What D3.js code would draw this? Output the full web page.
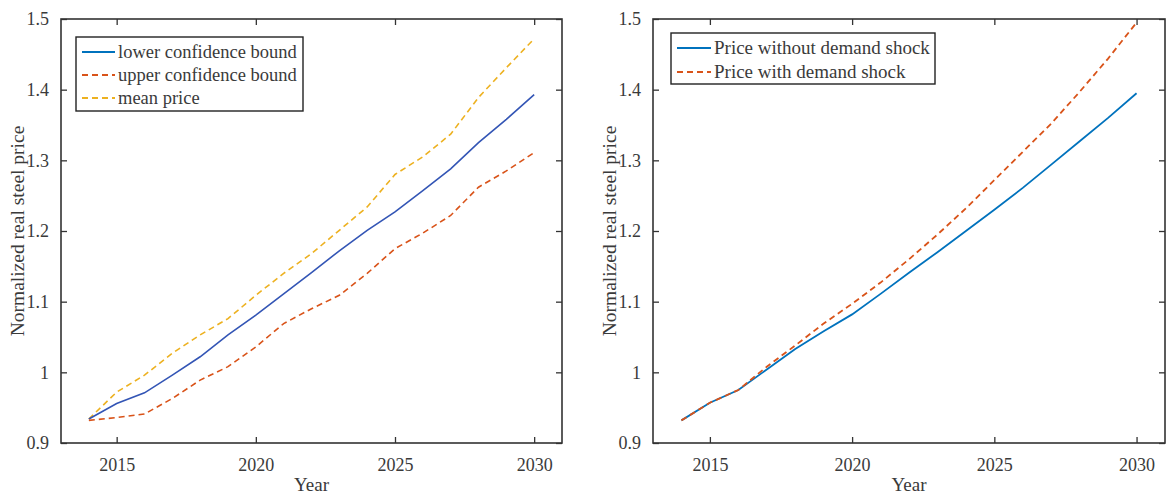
<!DOCTYPE html>
<html>
<head>
<meta charset="utf-8">
<script src="https://cdn.jsdelivr.net/npm/d3@7"></script>
<style>
  body { margin: 0; background: #fff; }
  svg { display: block; }
  text { font-family: "Liberation Serif", "Times New Roman", serif; fill: #3a3a3a; }
</style>
</head>
<body>
<svg width="1166" height="494"></svg>
<script>
// data
var years = d3.range(2014, 2031);
var lowerBound = [0.934, 0.956, 0.971, 0.996, 1.022, 1.053, 1.081, 1.111, 1.141, 1.172, 1.201, 1.227, 1.257, 1.288, 1.325, 1.358, 1.393];
var upperBound = [0.932, 0.936, 0.941, 0.963, 0.989, 1.008, 1.036, 1.069, 1.090, 1.109, 1.140, 1.175, 1.197, 1.222, 1.262, 1.285, 1.311];
var meanPrice  = [0.934, 0.972, 0.996, 1.027, 1.053, 1.076, 1.109, 1.140, 1.168, 1.201, 1.234, 1.280, 1.305, 1.337, 1.389, 1.431, 1.472];
var noShock    = [0.932, 0.957, 0.975, 1.004, 1.033, 1.058, 1.082, 1.111, 1.141, 1.170, 1.200, 1.230, 1.261, 1.294, 1.327, 1.360, 1.395];
var withShock  = [0.932, 0.957, 0.975, 1.008, 1.038, 1.069, 1.097, 1.127, 1.160, 1.195, 1.232, 1.272, 1.312, 1.352, 1.397, 1.444, 1.495];
var xTicks = [2015, 2020, 2025, 2030];
var yTicks = [0.9, 1, 1.1, 1.2, 1.3, 1.4, 1.5];

var blue = "#0072BD", red = "#D95319", yellow = "#EDB120";

var svg = d3.select("svg");

function drawPanel(box, series, legend) {
    var x = d3.scaleLinear().domain([2013, 2031]).range([box.left, box.right]);
    var y = d3.scaleLinear().domain([0.9, 1.5]).range([box.bottom, box.top]);
    var g = svg.append("g");

    // bottom axis (ticks inward) + top ticks
    var xb = g.append("g").attr("transform", "translate(0," + box.bottom + ")")
        .call(d3.axisBottom(x).tickValues(xTicks).tickSize(-6).tickPadding(15).tickFormat(d3.format("d")));
    var xt = g.append("g").attr("transform", "translate(0," + box.top + ")")
        .call(d3.axisTop(x).tickValues(xTicks).tickSize(-6).tickFormat(""));
    var yl = g.append("g").attr("transform", "translate(" + box.left + ",0)")
        .call(d3.axisLeft(y).tickValues(yTicks).tickSize(-6).tickPadding(12).tickFormat(function (d) { return d === 1 ? "1" : d3.format(".1f")(d); }));
    var yr = g.append("g").attr("transform", "translate(" + box.right + ",0)")
        .call(d3.axisRight(y).tickValues(yTicks).tickSize(-6).tickFormat(""));
    [xb, xt, yl, yr].forEach(function (a) {
        a.attr("font-family", null);
        a.select(".domain").remove();
        a.selectAll("line").attr("stroke", "#333").attr("stroke-width", 1.3);
        a.selectAll("text").style("font-size", "18px").attr("fill", "#3a3a3a");
    });

    g.append("rect")
        .attr("x", box.left).attr("y", box.top)
        .attr("width", box.right - box.left).attr("height", box.bottom - box.top)
        .attr("fill", "none").attr("stroke", "#333").attr("stroke-width", 1.6);

    var line = d3.line().x(function (d, i) { return x(years[i]); }).y(function (d) { return y(d); });
    series.forEach(function (s) {
        g.append("path").datum(s.values)
            .attr("d", line).attr("fill", "none")
            .attr("stroke", s.color).attr("stroke-width", s.width || 1.6)
            .attr("stroke-dasharray", s.dash ? "6,4" : null);
    });

    g.append("text")
        .attr("x", (box.left + box.right) / 2).attr("y", box.bottom + 48)
        .attr("text-anchor", "middle").style("font-size", "19px").text("Year");
    g.append("text")
        .attr("transform", "translate(" + (box.left - 37) + "," + ((box.top + box.bottom) / 2) + ") rotate(-90)")
        .attr("text-anchor", "middle").style("font-size", "19.5px").text("Normalized real steel price");

    // legend
    var lg = g.append("g").attr("transform", "translate(" + legend.x + "," + legend.y + ")");
    lg.append("rect").attr("width", legend.w).attr("height", legend.h)
        .attr("fill", "#fff").attr("stroke", "#222").attr("stroke-width", 1.4);
    legend.items.forEach(function (s, i) {
        var cy = legend.pad + i * legend.step;
        lg.append("line").attr("x1", 6).attr("x2", legend.lineEnd).attr("y1", cy).attr("y2", cy)
            .attr("stroke", s.color).attr("stroke-width", 1.8)
            .attr("stroke-dasharray", s.dash ? "6,4" : null);
        lg.append("text").attr("x", legend.lineEnd + 3).attr("y", cy + 6)
            .style("font-size", legend.font).attr("fill", "#222").text(s.name);
    });
}

var leftSeries = [
    { name: "mean price", values: meanPrice, color: yellow, dash: true },
    { name: "lower confidence bound", values: lowerBound, color: "#3355b5" },
    { name: "upper confidence bound", values: upperBound, color: red, dash: true }
];
drawPanel({ left: 61, right: 562, top: 19, bottom: 443 }, leftSeries, {
    x: 76, y: 37, w: 227, h: 74, pad: 15, step: 23, lineEnd: 39, font: "18.5px",
    items: [
        { name: "lower confidence bound", color: blue },
        { name: "upper confidence bound", color: red, dash: true },
        { name: "mean price", color: yellow, dash: true }
    ]
});

var rightSeries = [
    { name: "Price without demand shock", values: noShock, color: blue, width: 1.8 },
    { name: "Price with demand shock", values: withShock, color: red, dash: true, width: 1.8 }
];
drawPanel({ left: 653, right: 1165, top: 19, bottom: 443 }, rightSeries, {
    x: 671, y: 33, w: 264, h: 51, pad: 15, step: 24, lineEnd: 40, font: "19px",
    items: rightSeries
});
</script>
</body>
</html>
